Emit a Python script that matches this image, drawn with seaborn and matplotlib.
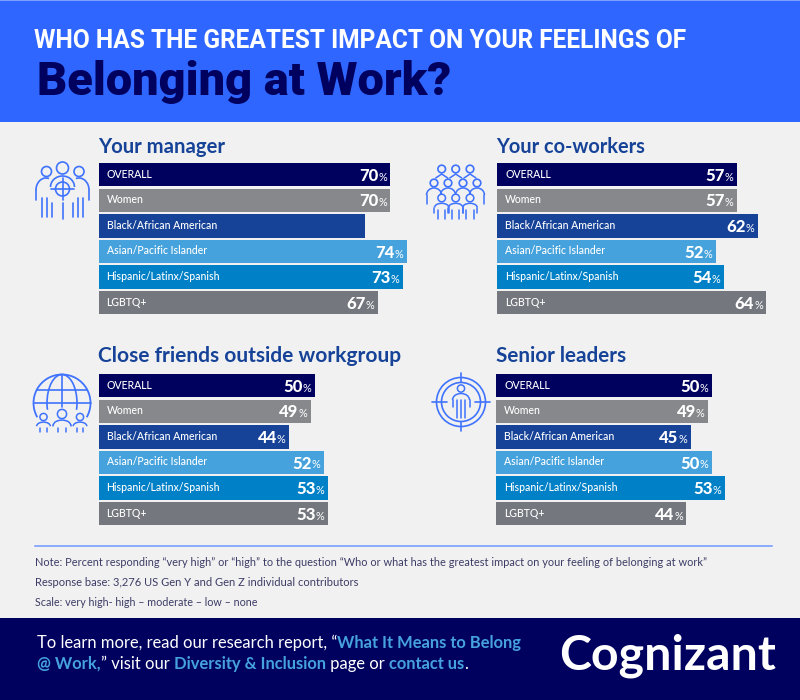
"""Who has the greatest impact on feelings of belonging at work: four bar panels."""

import matplotlib
matplotlib.use("Agg")
import matplotlib.pyplot as plt
from matplotlib.patches import Arc, Circle, Ellipse, Rectangle
import pandas as pd
import seaborn as sns

GROUPS = ["OVERALL", "Women", "Black/African American",
          "Asian/Pacific Islander", "Hispanic/Latinx/Spanish", "LGBTQ+"]
MANAGER = [70, 70, 64, 74, 73, 67]
COWORKERS = [57, 57, 62, 52, 54, 64]
FRIENDS = [50, 49, 44, 52, 53, 53]
LEADERS = [50, 49, 45, 50, 53, 44]
# the source prints no figure on this one bar
MANAGER_UNLABELLED = ["Black/African American"]

NOTES = [
    "Note: Percent responding \u201cvery high\u201d or \u201chigh\u201d to the question "
    "\u201cWho or what has the greatest impact on your feeling of belonging at work\u201d",
    "Response base: 3,276 US Gen Y and Gen Z individual contributors",
    "Scale: very high- high \u2013 moderate \u2013 low \u2013 none",
]

NAVY, ROYAL, HEADER, ICON = "#00005f", "#164398", "#2f66ff", "#3f73ff"
SKY = "#45a2dc"
BAR_COLORS = [NAVY, "#87888c", ROYAL, SKY, "#0080c6", "#75777e"]
plt.rcParams["font.family"] = ["Lato", "DejaVu Sans"]

W, H = 800, 700
PANEL_W = 340


def place(ax, x, y, s, size, color, weight="normal", width=None, **kw):
    """Text at pixel position; if width is given, scale the font to fill it."""
    t = ax.text(x, y, s, fontsize=size, color=color, fontweight=weight,
                va="baseline", **kw)
    if width:
        w = t.get_window_extent(ax.figure.canvas.get_renderer()).width
        t.set_fontsize(size * width / w)
    return t


def place_runs(ax, x, y, runs, size):
    """Several coloured pieces of text one after another on a baseline."""
    renderer = ax.figure.canvas.get_renderer()
    for s, color, weight in runs:
        t = place(ax, x, y, s, size, color, weight)
        x += t.get_window_extent(renderer).width


def draw_panel(fig, left, top, px_per_pct, values, unlabelled=()):
    df = pd.DataFrame({"group": GROUPS, "value": values})
    ax = fig.add_axes([left / W, 1 - (top + 153.6) / H, PANEL_W / W, 153.6 / H])
    ax.set_zorder(2)
    sns.barplot(data=df, x="value", y="group", hue="group", palette=BAR_COLORS,
                order=GROUPS, hue_order=GROUPS, legend=False, width=0.91,
                saturation=1, ax=ax)
    ax.set_xlim(0, PANEL_W / px_per_pct)
    ax.set_axis_off()
    for i, (group, value) in enumerate(zip(GROUPS, values)):
        ax.annotate(group, (0, i), xytext=(5.8, 0.4), textcoords="offset points",
                    color="white", fontsize=7.6, fontweight="medium",
                    va="center", ha="left")
        if group in unlabelled:
            continue
        ax.annotate("%", (value, i), xytext=(-2.6, -1.8), textcoords="offset points",
                    color="white", fontsize=7.8, va="center", ha="right")
        ax.annotate(str(value), (value, i), xytext=(-8.8, -0.8),
                    textcoords="offset points", color="white", fontsize=12,
                    fontweight="black", va="center", ha="right")
    return ax


def line(ax, xs, ys, lw=1.2):
    ax.plot(xs, ys, color=ICON, lw=lw, solid_capstyle="round", zorder=3)


def ring(ax, x, y, r, lw=1.2):
    ax.add_patch(Circle((x, y), r, fill=False, ec=ICON, lw=lw, zorder=3))


def person(ax, x, y, r, bottom, lw=1.1):
    """Head, rounded shoulders and two or three body strokes."""
    ring(ax, x, y, r, lw)
    sh = y + r + 1.5
    w = r * 1.9
    ax.add_patch(Arc((x, sh + w * 0.6), 2 * w, 1.2 * w, theta1=180, theta2=360,
                     ec=ICON, lw=lw, zorder=3))
    for dx in (-w, w):
        line(ax, [x + dx, x + dx], [sh + w * 0.6, bottom - 6], lw)
    for dx in (-w * 0.5, w * 0.5):
        line(ax, [x + dx, x + dx], [sh + w * 0.9, bottom], lw)


def icon_manager(ax):
    ring(ax, 46.5, 171.5, 5)
    ring(ax, 79, 171.5, 5)
    ring(ax, 62.5, 168, 6)
    ax.add_patch(Arc((46, 190), 20, 24, theta1=180, theta2=285, ec=ICON, lw=1.2, zorder=3))
    ax.add_patch(Arc((79, 190), 20, 24, theta1=255, theta2=360, ec=ICON, lw=1.2, zorder=3))
    ax.add_patch(Arc((62.5, 187), 24, 22, theta1=180, theta2=360, ec=ICON, lw=1.2, zorder=3))
    ring(ax, 62.5, 189, 7)
    line(ax, [51, 74], [189, 189])
    line(ax, [62.5, 62.5], [178, 200])
    line(ax, [36, 36], [190, 200])
    line(ax, [89, 89], [190, 200])
    for x, y0 in [(42, 198), (47, 198), (52, 203), (62.5, 203),
                  (73, 203), (78, 198), (83, 198)]:
        line(ax, [x, x], [y0, 217 if x != 62.5 else 219])


def icon_coworkers(ax):
    for x in (441.7, 455.7, 470):
        ring(ax, x, 169, 3.8)
        line(ax, [x - 6, x, x + 6], [178, 174, 178], 1.1)
    for x in (434, 448, 463, 477):
        ring(ax, x, 183, 3.8)
        ax.add_patch(Arc((x, 195), 15, 14, theta1=180, theta2=360, ec=ICON, lw=1.1, zorder=3))
    for x in (441.7, 455.7, 470):
        person(ax, x, 198, 3.8, 219)
    line(ax, [427, 427], [195, 204], 1.1)
    line(ax, [484, 484], [195, 204], 1.1)


def icon_globe(ax):
    ax.add_patch(Arc((62, 403), 57, 57, theta1=150, theta2=390, ec=ICON, lw=1.3, zorder=3))
    ax.add_patch(Ellipse((62, 403), 30, 57, fill=False, ec=ICON, lw=1.2, zorder=1))
    line(ax, [33.5, 90.5], [403, 403])
    line(ax, [37, 87], [390, 390])
    line(ax, [62, 62], [374.5, 407])
    # hide the lower part of the meridians behind the people
    ax.add_patch(Rectangle((30, 410), 64, 26, color="#f1f1f1", zorder=2))
    for x, y, r in [(43.5, 417, 3.6), (62, 414, 4.6), (80, 417, 3.6)]:
        person(ax, x, y, r, 432)


def icon_target(ax):
    cx, cy = 461, 402
    ring(ax, cx, cy, 24.5)
    ring(ax, cx, cy, 19.5)
    line(ax, [cx - 29, cx - 14], [cy, cy])
    line(ax, [cx + 14, cx + 29], [cy, cy])
    line(ax, [cx, cx], [cy - 29, cy - 20])
    line(ax, [cx, cx], [cy + 20, cy + 29])
    ring(ax, cx, cy - 13.5, 3.6, 1.1)
    ax.add_patch(Arc((cx, cy - 2), 17, 13, theta1=180, theta2=360, ec=ICON, lw=1.1, zorder=3))
    for dx, y1 in [(-8.5, 5), (8.5, 5), (-4, 16), (4, 16), (0, 16)]:
        line(ax, [cx + dx, cx + dx], [cy - 2, cy + y1], 1.1)


def main():
    fig = plt.figure(figsize=(W / 100, H / 100), dpi=100)
    fig.patch.set_facecolor("#f1f1f1")
    bg = fig.add_axes([0, 0, 1, 1])
    bg.set_xlim(0, W)
    bg.set_ylim(H, 0)
    bg.set_axis_off()
    bg.set_zorder(1)
    fig.canvas.draw()

    bg.add_patch(Rectangle((0, 0), W, 122, color=HEADER, lw=0))
    bg.add_patch(Rectangle((0, 0), W, 1, color="#7f9fff", lw=0))
    bg.add_patch(Rectangle((0, 618), W, 82, color=NAVY, lw=0))
    place(bg, 34, 48, "WHO HAS THE GREATEST IMPACT ON YOUR FEELINGS OF", 17,
          "white", "bold", width=653, family="Roboto")
    place(bg, 37, 95, "Belonging at Work?", 36, NAVY, "black", width=415, family="Roboto")

    place(bg, 98, 153, "Your manager", 14, ROYAL, "bold", width=128)
    place(bg, 496.5, 153, "Your co-workers", 14, ROYAL, "bold", width=150)
    place(bg, 98, 362, "Close friends outside workgroup", 14, ROYAL, "bold", width=303)
    place(bg, 496.5, 362, "Senior leaders", 14, ROYAL, "bold", width=131)

    draw_panel(fig, 98.5, 161.9, 4.17, MANAGER, MANAGER_UNLABELLED)
    draw_panel(fig, 497, 161.9, 4.21, COWORKERS)
    draw_panel(fig, 98.5, 372.9, 4.33, FRIENDS)
    draw_panel(fig, 496.3, 372.9, 4.32, LEADERS)

    icon_manager(bg)
    icon_coworkers(bg)
    icon_globe(bg)
    icon_target(bg)

    bg.plot([35, 772], [546, 546], color="#6f97ff", lw=1.1)
    note_widths = [665, 321, 221]
    for y, note, width in zip((566, 586, 606), NOTES, note_widths):
        place(bg, 35, y, note, 7.5, "#3c3c66", width=width)

    place_runs(bg, 37, 648, [
        ("To learn more, read our research report, \u201c", "white", "normal"),
        ("What It Means to Belong", SKY, "bold"),
    ], 11.9)
    place_runs(bg, 37, 669, [
        ("@ Work,", SKY, "bold"),
        ("\u201d visit our ", "white", "normal"),
        ("Diversity & Inclusion", SKY, "bold"),
        (" page or ", "white", "normal"),
        ("contact us", SKY, "bold"),
        (".", "white", "normal"),
    ], 11.9)
    place(bg, 559, 669, "Cognizant", 36, "white", "bold", width=216)

    fig.savefig("out.png", dpi=100, facecolor=fig.get_facecolor())
    plt.close(fig)


if __name__ == "__main__":
    main()
